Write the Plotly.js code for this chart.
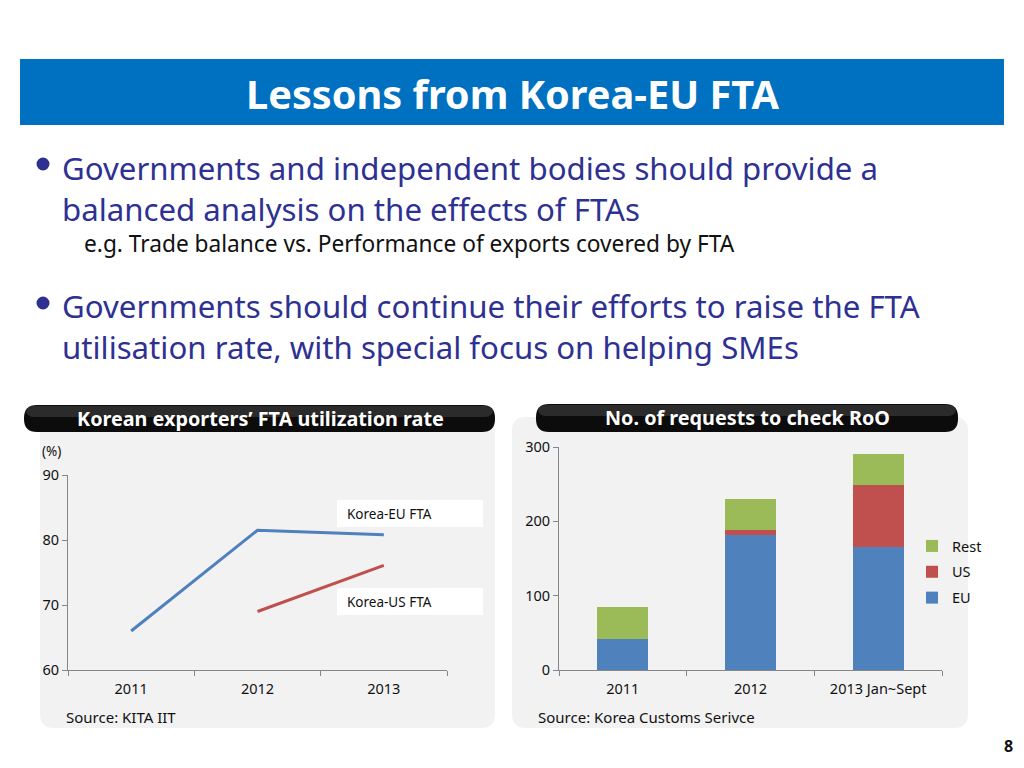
<!DOCTYPE html>
<html>
<head>
<meta charset="utf-8">
<script src="https://cdn.plot.ly/plotly-3.0.1.min.js"></script>
<style>
  html, body { margin: 0; padding: 0; background: #fff; }
  #myDiv { width: 1024px; height: 768px; }
</style>
</head>
<body>
<div id="myDiv"></div>
<script>
// utilisation rate (%)
let years = ['2011', '2012', '2013'];
let euRate = [66.0, 81.5, 80.8];
let usRate = [null, 69.0, 76.1];

// requests to check RoO
let rooCats = ['2011', '2012', '2013 Jan~Sept'];
let rooEU = [42, 182, 165];
let rooUS = [0, 6, 84];
let rooRest = [43, 42, 42];

let FONT = 'Noto Sans, Open Sans, sans-serif';
let BLUE = '#4F81BD', RED = '#C0504D', GREEN = '#9BBB59';
let AXIS = '#868686';

// pixel -> paper helpers for the slide decoration
function X(p) { return p / 1024; }
function Y(p) { return 1 - p / 768; }
function pt(x, y) { return X(x).toFixed(5) + ',' + Y(y).toFixed(5); }
function roundRect(x0, y0, x1, y1, r, fill) {
  let d = 'M ' + pt(x0 + r, y0) +
    ' L ' + pt(x1 - r, y0) + ' Q ' + pt(x1, y0) + ' ' + pt(x1, y0 + r) +
    ' L ' + pt(x1, y1 - r) + ' Q ' + pt(x1, y1) + ' ' + pt(x1 - r, y1) +
    ' L ' + pt(x0 + r, y1) + ' Q ' + pt(x0, y1) + ' ' + pt(x0, y1 - r) +
    ' L ' + pt(x0, y0 + r) + ' Q ' + pt(x0, y0) + ' ' + pt(x0 + r, y0) + ' Z';
  return {type: 'path', xref: 'paper', yref: 'paper', path: d,
    fillcolor: fill, line: {width: 0}, layer: 'below'};
}
function rect(x0, y0, x1, y1, fill) {
  return {type: 'rect', xref: 'paper', yref: 'paper',
    x0: X(x0), x1: X(x1), y0: Y(y1), y1: Y(y0),
    fillcolor: fill, line: {width: 0}, layer: 'below'};
}
function dot(cx, cy, r) {
  return {type: 'circle', xref: 'paper', yref: 'paper',
    x0: X(cx - r), x1: X(cx + r), y0: Y(cy + r), y1: Y(cy - r),
    fillcolor: '#2E3192', line: {width: 0}};
}
function txt(text, x, y, size, color, opts) {
  return Object.assign({
    text: text, xref: 'paper', yref: 'paper', x: X(x), y: Y(y),
    xanchor: 'left', yanchor: 'middle', showarrow: false,
    font: {family: FONT, size: size, color: color}
  }, opts || {});
}

let trace1 = {
  x: years, y: euRate, type: 'scatter', mode: 'lines',
  line: {color: BLUE, width: 3}, showlegend: false,
  xaxis: 'x', yaxis: 'y', hoverinfo: 'skip'
};
let trace2 = {
  x: years, y: usRate, type: 'scatter', mode: 'lines',
  line: {color: RED, width: 3}, showlegend: false,
  xaxis: 'x', yaxis: 'y', hoverinfo: 'skip'
};
let bar1 = {x: rooCats, y: rooEU, type: 'bar', name: 'EU', marker: {color: BLUE},
  width: 0.4, xaxis: 'x2', yaxis: 'y2', legendgroup: 'eu', legendrank: 3};
let bar2 = {x: rooCats, y: rooUS, type: 'bar', name: 'US', marker: {color: RED},
  width: 0.4, xaxis: 'x2', yaxis: 'y2', legendgroup: 'us', legendrank: 2};
let bar3 = {x: rooCats, y: rooRest, type: 'bar', name: 'Rest', marker: {color: GREEN},
  width: 0.4, xaxis: 'x2', yaxis: 'y2', legendgroup: 'rest', legendrank: 1};

let axisBase = {
  showline: true, linecolor: AXIS, linewidth: 1,
  ticks: 'outside', ticklen: 5, tickcolor: AXIS,
  showgrid: false, zeroline: false, fixedrange: true,
  tickfont: {family: FONT, size: 14.5, color: '#111'}
};

let layout = {
  width: 1024, height: 768,
  margin: {l: 0, r: 0, t: 0, b: 0},
  paper_bgcolor: '#ffffff',
  plot_bgcolor: 'rgba(0,0,0,0)',
  barmode: 'stack',
  font: {family: FONT},
  xaxis: Object.assign({}, axisBase, {
    domain: [X(68), X(447)], anchor: 'y', type: 'category',
    tickson: 'boundaries', range: [-0.5, 2.5], ticklabelstandoff: 6
  }),
  yaxis: Object.assign({}, axisBase, {
    domain: [Y(670), Y(475)], anchor: 'x', range: [60, 90], dtick: 10
  }),
  xaxis2: Object.assign({}, axisBase, {
    domain: [X(559), X(942)], anchor: 'y2', type: 'category',
    tickson: 'boundaries', range: [-0.5, 2.5], ticklabelstandoff: 6
  }),
  yaxis2: Object.assign({}, axisBase, {
    domain: [Y(670), Y(447)], anchor: 'x2', range: [0, 300], dtick: 100
  }),
  showlegend: true,
  legend: {
    x: X(912), y: Y(572), xanchor: 'left', yanchor: 'middle',
    traceorder: 'grouped', tracegroupgap: 4,
    bgcolor: 'rgba(0,0,0,0)',
    font: {family: FONT, size: 14.5, color: '#111'},
    itemclick: false, itemdoubleclick: false
  },
  shapes: [
    rect(20, 59, 1004, 125, '#0070C0'),
    dot(43, 164, 6.5),
    dot(43, 303, 6.5),
    roundRect(40, 418, 495, 728, 14, '#F2F2F2'),
    roundRect(24, 405, 495, 432, 13, '#0c0c0c'),
    roundRect(26, 406, 493, 417, 8, 'rgba(255,255,255,0.13)'),
    roundRect(512, 417, 968, 728, 14, '#F2F2F2'),
    roundRect(536, 404, 958, 432, 13, '#0c0c0c'),
    roundRect(538, 405, 956, 416, 8, 'rgba(255,255,255,0.13)'),
    rect(337, 500, 483, 527, '#ffffff'),
    rect(337, 588, 483, 615, '#ffffff')
  ],
  annotations: [
    txt('<b>Lessons from Korea-EU FTA</b>', 512, 94, 39.7, '#ffffff', {xanchor: 'center'}),
    txt('Governments and independent bodies should provide a<br>balanced analysis on the effects of FTAs',
      60, 188.5, 31.2, '#2E3192', {align: 'left'}),
    txt('e.g. Trade balance vs. Performance of exports covered by FTA', 82, 243, 22.7, '#111111'),
    txt('Governments should continue their efforts to raise the FTA<br>utilisation rate, with special focus on helping SMEs',
      60, 326, 31.2, '#2E3192', {align: 'left'}),
    txt('<b>Korean exporters’ FTA utilization rate</b>', 260, 418, 19.8, '#ffffff', {xanchor: 'center'}),
    txt('<b>No. of requests to check RoO</b>', 747, 417, 19.8, '#ffffff', {xanchor: 'center'}),
    txt('(%)', 40, 451, 13.5, '#111111'),
    txt('Korea-EU FTA', 345, 514, 13.5, '#111111'),
    txt('Korea-US FTA', 345, 602, 13.5, '#111111'),
    txt('Source: KITA IIT', 64, 717, 15, '#111111'),
    txt('Source: Korea Customs Serivce', 536, 717, 15, '#111111'),
    txt('<b>8</b>', 1008, 746, 16, '#111111', {xanchor: 'center'})
  ]
};

let data = [trace1, trace2, bar1, bar2, bar3];
Plotly.newPlot('myDiv', data, layout, {displayModeBar: false, staticPlot: true});
</script>
</body>
</html>
